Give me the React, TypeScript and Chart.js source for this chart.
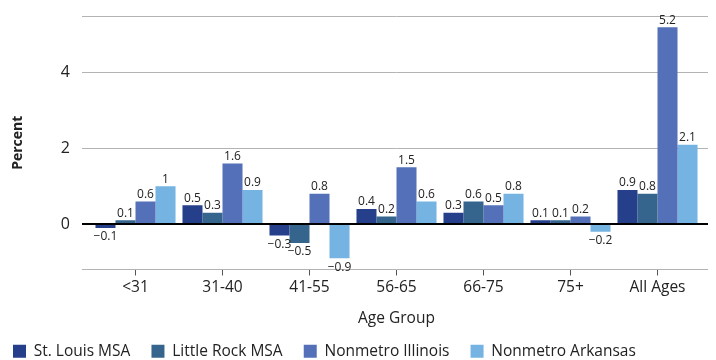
import React, { useEffect, useRef } from "react";
import { Chart, registerables } from "chart.js";

Chart.register(...registerables);

const categories = ["<31", "31-40", "41-55", "56-65", "66-75", "75+", "All Ages"];
const seriesNames = ["St. Louis MSA", "Little Rock MSA", "Nonmetro Illinois", "Nonmetro Arkansas"];
const stLouis = [-0.1, 0.5, -0.3, 0.4, 0.3, 0.1, 0.9];
const littleRock = [0.1, 0.3, -0.5, 0.2, 0.6, 0.1, 0.8];
const nonmetroIllinois = [0.6, 1.6, 0.8, 1.5, 0.5, 0.2, 5.2];
const nonmetroArkansas = [1, 0.9, -0.9, 0.6, 0.8, -0.2, 2.1];
const seriesColors = ["#263f8b", "#35658c", "#5470b8", "#74b3e2"];
const yMin = -1.2;
const yMax = 5.5;
const yTickLabels = [0, 2, 4];
const xTitle = "Age Group";
const yTitle = "Percent";

const FONT = "'Open Sans', 'Noto Sans', sans-serif";
const TEXT = "#222222";
const GRID = "#b3b3b3";

const fmt = (v: number) => String(v).replace("-", "\u2212");

const valueLabels = {
  id: "valueLabels",
  afterDatasetsDraw(chart: any) {
    const ctx = chart.ctx;
    ctx.save();
    ctx.font = `12px ${FONT}`;
    ctx.fillStyle = TEXT;
    ctx.textAlign = "center";
    chart.data.datasets.forEach((ds: any, i: number) => {
      const meta = chart.getDatasetMeta(i);
      meta.data.forEach((bar: any, j: number) => {
        const v = ds.data[j];
        if (v >= 0) {
          ctx.textBaseline = "bottom";
          ctx.fillText(fmt(v), bar.x, bar.y - 1);
        } else {
          ctx.textBaseline = "top";
          ctx.fillText(fmt(v), bar.x, bar.y + 3);
        }
      });
    });
    ctx.restore();
  },
};

const gridTicks = (scale: any) => {
  scale.ticks = [yMin, ...yTickLabels, yMax].map((v) => ({ value: v }));
};

const fixWidth = (w: number) => (s: any) => {
  s.width = w;
  s.paddingTop = 0;
  s.paddingBottom = 0;
};

export default function App() {
  const ref = useRef<HTMLCanvasElement>(null);
  useEffect(() => {
    if (!ref.current) return;
    const data = [stLouis, littleRock, nonmetroIllinois, nonmetroArkansas];
    const chart = new Chart(ref.current, {
      type: "bar",
      data: {
        labels: categories,
        datasets: data.map((d, i) => ({
          label: seriesNames[i],
          data: d,
          backgroundColor: seriesColors[i],
          borderWidth: 0,
          barPercentage: 1,
          categoryPercentage: 0.92,
        })),
      },
      plugins: [valueLabels],
      options: {
        animation: false,
        responsive: true,
        maintainAspectRatio: false,
        layout: { padding: { top: 8, right: 0, bottom: -9, left: 0 } },
        plugins: {
          tooltip: { enabled: false },
          legend: {
            position: "bottom",
            align: "start",
            labels: {
              boxWidth: 13,
              boxHeight: 13,
              padding: 5,
              color: TEXT,
              font: { family: FONT, size: 15.5 },
              generateLabels: (c: any) =>
                c.data.datasets.map((ds: any, i: number) => ({
                  text: ds.label + (i < 3 ? "\u00a0\u00a0\u00a0\u00a0" : ""),
                  fillStyle: ds.backgroundColor,
                  strokeStyle: ds.backgroundColor,
                  lineWidth: 0,
                  hidden: false,
                  datasetIndex: i,
                  fontColor: TEXT,
                })),
            },
          },
        },
        scales: {
          x: {
            grid: {
              drawOnChartArea: false,
              drawTicks: true,
              tickLength: 6,
              offset: false,
              color: "#555",
            },
            border: { display: false },
            ticks: { color: TEXT, font: { family: FONT, size: 15.5 }, padding: 3, maxRotation: 0 },
            title: {
              display: true,
              text: xTitle,
              color: TEXT,
              font: { family: FONT, size: 15.5 },
              padding: { top: 0, bottom: 11 },
            },
            afterFit: (s: any) => {
              s.height = 69;
              s.paddingLeft = 0;
              s.paddingRight = 0;
            },
          },
          y: {
            min: yMin,
            max: yMax,
            afterBuildTicks: gridTicks,
            grid: {
              color: (c: any) => (c.tick && c.tick.value === 0 ? "#000" : GRID),
              lineWidth: (c: any) => (c.tick && c.tick.value === 0 ? 2 : 1),
              drawTicks: true,
              tickLength: 10,
            },
            border: { display: false },
            ticks: {
              color: TEXT,
              font: { family: FONT, size: 16 },
              padding: 12,
              callback: (v: any) => (yTickLabels.includes(Number(v)) ? String(v) : ""),
            },
            title: {
              display: true,
              text: yTitle,
              color: TEXT,
              font: { family: FONT, size: 14, weight: "bold" },
              padding: { top: 2, bottom: 0 },
            },
            afterFit: fixWidth(84),
          },
          y2: {
            position: "right",
            min: yMin,
            max: yMax,
            afterBuildTicks: gridTicks,
            grid: {
              drawOnChartArea: false,
              color: (c: any) => (c.tick && c.tick.value === 0 ? "#000" : GRID),
              lineWidth: (c: any) => (c.tick && c.tick.value === 0 ? 2 : 1),
              drawTicks: true,
              tickLength: 7,
            },
            border: { display: false },
            ticks: { callback: () => "", padding: 0 },
            afterFit: fixWidth(7),
          },
        },
      } as any,
    });
    return () => chart.destroy();
  }, []);
  return (
    <div style={{ width: 700, height: 352, position: "relative" }}>
      <canvas ref={ref} />
    </div>
  );
}
